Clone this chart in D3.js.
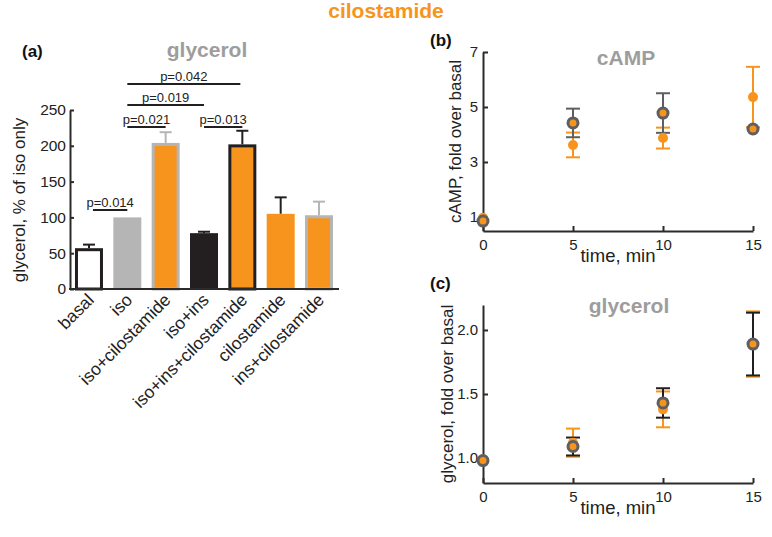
<!DOCTYPE html>
<html><head><meta charset="utf-8">
<script src="https://cdn.jsdelivr.net/npm/d3@7"></script>
<style>body{margin:0;background:#fff}svg{font-family:"Liberation Sans",Arial,sans-serif}</style>
</head><body><svg id="c" width="772" height="537"></svg>
<script>
// ---------- data ----------
const categories = ["basal","iso","iso+cilostamide","iso+ins","iso+ins+cilostamide","cilostamide","ins+cilostamide"];
const barValues = [57,100,204,78,202,105,103];
const barErrors = [5,0,15,2,19,23,19];
const yTicksA = [0,50,100,150,200,250];
const pComparisons = [
  {a:"basal", b:"iso", label:"p=0.014", level:0},
  {a:"iso", b:"iso+cilostamide", label:"p=0.021", level:1},
  {a:"iso+ins", b:"iso+ins+cilostamide", label:"p=0.013", level:1},
  {a:"iso", b:"iso+ins", label:"p=0.019", level:2},
  {a:"iso", b:"iso+ins+cilostamide", label:"p=0.042", level:3}
];
const times = [0,5,10,15];
const campRing = [0.85,4.42,4.78,4.2];
const campRingErr = [0,0.52,0.72,0];
const campOrange = [0.97,3.62,3.87,5.36];
const campOrangeErr = [0,0.45,0.38,1.1];
const glyRing = [0.98,1.09,1.43,1.89];
const glyRingErr = [0,0.07,0.115,0.245];
const glyOrange = [0.99,1.12,1.38,1.89];
const glyOrangeErr = [0,0.11,0.14,0.255];
const yTicksB = [1,3,5,7];
const yTicksC = [1.0,1.5,2.0];
const xTicksT = [0,5,10,15];

// ---------- styles ----------
const ORANGE = "#f7941d", GREY = "#b5b5b5", DARK = "#231f20", RING = "#5f5f60", AX = "#2b2b2b";
const barStyle = [
  {fill:"#fff", stroke:DARK, err:DARK},
  {fill:GREY, stroke:"none", err:GREY},
  {fill:ORANGE, stroke:GREY, err:GREY},
  {fill:DARK, stroke:"none", err:DARK},
  {fill:ORANGE, stroke:DARK, err:DARK},
  {fill:ORANGE, stroke:"none", err:DARK},
  {fill:ORANGE, stroke:GREY, err:GREY}
];
const FONT = "Liberation Sans, Arial, sans-serif";

const svg = d3.select("#c");

// title
svg.append("text").attr("x",386).attr("y",18).attr("text-anchor","middle")
  .attr("fill",ORANGE).attr("font-weight","bold").attr("font-size",21).text("cilostamide");

// ---------- panel a ----------
const xA = d3.scaleBand().domain(categories).range([70,338]).paddingInner(0.27).paddingOuter(0.13);
const yA = d3.scaleLinear().domain([0,250]).range([289,110]);
const gA = svg.append("g");
gA.append("text").attr("x",22).attr("y",57).attr("font-weight","bold").attr("font-size",17).attr("fill","#111").text("(a)");
gA.append("text").attr("x",207).attr("y",57).attr("text-anchor","middle").attr("font-weight","bold").attr("font-size",21).attr("fill","#9d9d9d").text("glycerol");
gA.append("text").attr("transform","translate(25,200) rotate(-90)").attr("text-anchor","middle").attr("font-size",17).attr("fill","#222").text("glycerol, % of iso only");

const bw = xA.bandwidth();
categories.forEach((c,i)=>{
  const st = barStyle[i];
  const x = xA(c), cx = x + bw/2;
  const yTop = yA(barValues[i]+barErrors[i]);
  if (barErrors[i] > 0) {
    gA.append("line").attr("x1",cx).attr("x2",cx).attr("y1",yA(barValues[i])).attr("y2",yTop).attr("stroke",st.err).attr("stroke-width",2);
    gA.append("line").attr("x1",cx-6).attr("x2",cx+6).attr("y1",yTop).attr("y2",yTop).attr("stroke",st.err).attr("stroke-width",2);
  }
  const sw = st.stroke==="none"?0:3;
  gA.append("rect").attr("x",x+sw/2).attr("width",bw-sw)
    .attr("y",yA(barValues[i])+sw/2).attr("height",yA(0)-yA(barValues[i])-sw/2)
    .attr("fill",st.fill).attr("stroke",st.stroke).attr("stroke-width",sw);
});

const yAxisA = gA.append("g").attr("transform","translate(70,0)")
  .call(d3.axisLeft(yA).tickValues(yTicksA).tickSizeInner(-4).tickSizeOuter(0).tickPadding(4));
yAxisA.selectAll("text").attr("font-size",15.5).attr("fill","#222").attr("font-family",FONT);
yAxisA.select(".domain").attr("stroke",AX).attr("stroke-width",2);
yAxisA.selectAll(".tick line").attr("stroke",AX).attr("stroke-width",2);
gA.append("line").attr("x1",69).attr("x2",339).attr("y1",yA(0)).attr("y2",yA(0)).attr("stroke",AX).attr("stroke-width",2);

categories.forEach((c,i)=>{
  gA.append("text").attr("transform",`translate(${xA(c)+bw/2+6},${301}) rotate(-45)`)
    .attr("text-anchor","end").attr("font-size",17.5).attr("fill","#222").text(c);
});

const levelY = [210,127,105,84];
pComparisons.forEach(p=>{
  const x1 = xA(p.a)+bw/2 + (p.level===0?4:0), x2 = xA(p.b)+bw/2 + (p.b==="iso+ins+cilostamide"&&p.level===3?-2:0);
  const y = levelY[p.level];
  gA.append("line").attr("x1",x1).attr("x2",x2).attr("y1",y).attr("y2",y).attr("stroke",DARK).attr("stroke-width",2);
  gA.append("text").attr("x",(x1+x2)/2).attr("y",y-3).attr("text-anchor","middle").attr("font-size",13).attr("fill","#222").text(p.label);
});

// ---------- time panels ----------
function timePanel(opts){
  const g = svg.append("g");
  const x = d3.scaleLinear().domain([0,15]).range([483,753]);
  const y = d3.scaleLinear().domain(opts.yDomain).range(opts.yRange);
  g.append("text").attr("x",430).attr("y",opts.labelY).attr("font-weight","bold").attr("font-size",17).attr("fill","#111").text(opts.tag);
  g.append("text").attr("x",opts.titleX).attr("y",opts.titleY).attr("text-anchor","middle").attr("font-weight","bold").attr("font-size",21).attr("fill","#9d9d9d").text(opts.title);
  g.append("text").attr("transform",`translate(${opts.ylX},${(opts.yRange[0]+opts.yRange[1])/2}) rotate(-90)`).attr("text-anchor","middle").attr("font-size",17).attr("fill","#222").text(opts.yLabel);
  const ya = g.append("g").attr("transform","translate(483,0)")
    .call(d3.axisLeft(y).tickValues(opts.yTicks).tickSizeInner(-5).tickSizeOuter(0).tickPadding(5).tickFormat(opts.fmt));
  const xa = g.append("g").attr("transform",`translate(0,${opts.yRange[0]})`)
    .call(d3.axisBottom(x).tickValues(xTicksT).tickSizeInner(-5).tickSizeOuter(0).tickPadding(8));
  [ya,xa].forEach(a=>{
    a.select(".domain").attr("stroke",AX).attr("stroke-width",2);
    a.selectAll(".tick line").attr("stroke",AX).attr("stroke-width",2);
    a.selectAll("text").attr("font-size",15).attr("fill","#222").attr("font-family",FONT);
  });
  g.append("text").attr("x",618).attr("y",opts.yRange[0]+31).attr("text-anchor","middle").attr("font-size",18.5).attr("fill","#222").text("time, min");

  function errs(vals, es, col){
    times.forEach((t,i)=>{
      if (es[i] <= 0) return;
      const cx = x(t), y1 = y(vals[i]-es[i]), y2 = y(vals[i]+es[i]);
      g.append("line").attr("x1",cx).attr("x2",cx).attr("y1",y1).attr("y2",y2).attr("stroke",col).attr("stroke-width",2);
      [y1,y2].forEach(yy=>g.append("line").attr("x1",cx-7).attr("x2",cx+7).attr("y1",yy).attr("y2",yy).attr("stroke",col).attr("stroke-width",2));
    });
  }
  errs(opts.orange, opts.orangeErr, ORANGE);
  errs(opts.ring, opts.ringErr, opts.ringErrCol);
  g.selectAll(".po").data(times).enter().append("circle").attr("cx",d=>x(d)).attr("cy",(d,i)=>y(opts.orange[i])).attr("r",5).attr("fill",ORANGE);
  g.selectAll(".pr").data(times).enter().append("circle").attr("cx",d=>x(d)).attr("cy",(d,i)=>y(opts.ring[i])).attr("r",5).attr("fill",ORANGE).attr("stroke",RING).attr("stroke-width",3);
}

timePanel({tag:"(b)", labelY:46, title:"cAMP", titleX:626, titleY:65, yLabel:"cAMP, fold over basal", ylX:461,
  yDomain:[0.49,7], yRange:[231,52], yTicks:yTicksB, fmt:d3.format("d"),
  ring:campRing, ringErr:campRingErr, orange:campOrange, orangeErr:campOrangeErr, ringErrCol:RING});
timePanel({tag:"(c)", labelY:289, title:"glycerol", titleX:629, titleY:313, yLabel:"glycerol, fold over basal", ylX:453,
  yDomain:[0.805,2.195], yRange:[483,305], yTicks:yTicksC, fmt:d3.format(".1f"),
  ring:glyRing, ringErr:glyRingErr, orange:glyOrange, orangeErr:glyOrangeErr, ringErrCol:DARK});
</script></body></html>
